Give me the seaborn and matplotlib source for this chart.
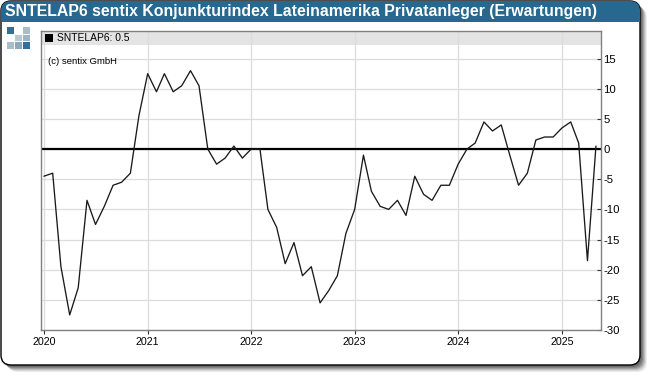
import numpy as np
import pandas as pd
import seaborn as sns
import matplotlib
matplotlib.use("Agg")
import matplotlib.pyplot as plt
from matplotlib.patches import FancyBboxPatch, Rectangle

# monthly index values
months = pd.date_range("2020-01-01", "2025-05-01", freq="MS")
vals_2020 = [-4.5, -4, -19.5, -27.5, -23, -8.5, -12.5, -9.5, -6, -5.5, -4, 5.5]
vals_2021 = [12.5, 9.5, 12.5, 9.5, 10.5, 13, 10.5, 0, -2.5, -1.5, 0.5, -1.5]
vals_2022 = [0, 0, -10, -13, -19, -15.5, -21, -19.5, -25.5, -23.5, -21, -14]
vals_2023 = [-10, -1, -7, -9.5, -10, -8.5, -11, -4.5, -7.5, -8.5, -6, -6]
vals_2024 = [-2.5, 0, 1, 4.5, 3, 4, -1, -6, -4, 1.5, 2, 2]
vals_2025 = [3.5, 4.5, 1, -18.5, 0.5]
values = vals_2020 + vals_2021 + vals_2022 + vals_2023 + vals_2024 + vals_2025
years = [2020, 2021, 2022, 2023, 2024, 2025]
yticks = [-30, -25, -20, -15, -10, -5, 0, 5, 10, 15]

title = "SNTELAP6 sentix Konjunkturindex Lateinamerika Privatanleger (Erwartungen)"
legend_text = "SNTELAP6: 0.5"
credit = "(c) sentix GmbH"

W, H = 650, 376
BLUE = "#27688f"

sns.set_theme(style="white")
plt.rcParams["font.family"] = ["Liberation Sans", "DejaVu Sans"]
plt.rcParams["axes.unicode_minus"] = False

fig = plt.figure(figsize=(W / 100, H / 100), dpi=100, facecolor="white")

# background layer in pixel coords, y going down
bg = fig.add_axes([0, 0, 1, 1])
bg.set_xlim(0, W)
bg.set_ylim(H, 0)
bg.axis("off")

# soft shadow of the panel
for off, col in zip([7, 6, 5, 4, 3, 2], ["#ececec", "#d8d8d8", "#bdbdbd", "#a0a0a0", "#858585", "#6e6e6e"]):
    bg.add_patch(FancyBboxPatch((1 + off, 1 + off), 639, 364, boxstyle="round,pad=0,rounding_size=10",
                                fc=col, ec="none"))
bg.add_patch(FancyBboxPatch((1, 1), 639, 364, boxstyle="round,pad=0,rounding_size=10",
                            fc="white", ec="black", lw=1))
# title band, clipped to the panel outline
band = Rectangle((1, 1), 639, 21, fc=BLUE, ec="none")
bg.add_patch(band)
band.set_clip_path(FancyBboxPatch((1, 1), 639, 364, boxstyle="round,pad=0,rounding_size=10",
                                  transform=bg.transData))
bg.text(5, 11.5, title, color="white", fontsize=11.45, fontweight="bold", va="center", ha="left")

# logo squares
logo = [(7, 27, "#2f6f99"), (23, 27, "#a9bcc8"), (15, 34.5, "#b9c8d2"), (23, 34.5, "#9fb4c2"),
        (7, 42, "#a9bcc8"), (15, 42, "#8fa8b8"), (23, 42, "#2f6f99")]
for lx, ly, lc in logo:
    bg.add_patch(Rectangle((lx, ly), 6.5, 6.5, fc=lc, ec="none"))

# plot area
left, right, top, bottom = 40.5, 600.5, 30.5, 330
ax = fig.add_axes([left / W, 1 - bottom / H, (right - left) / W, (bottom - top) / H])
ax.patch.set_alpha(0)

df = pd.DataFrame({"date": months, "value": values})
ax.set_xlim(pd.Timestamp("2019-12-20"), pd.Timestamp("2025-05-17"))
ax.set_ylim(-30, 19.66)

ax.add_patch(Rectangle((0, 1 - 14.5 / 299.5), 1, 14.5 / 299.5, transform=ax.transAxes,
                       fc="#e4e4e4", ec="none", zorder=0))
ax.set_xticks([pd.Timestamp(f"{y}-01-01") for y in years])
ax.set_xticklabels([str(y) for y in years])
ax.set_yticks(yticks)
ax.grid(True, color="#dcdcdc", lw=0.9)
ax.set_axisbelow(True)
ax.axhline(0, color="black", lw=1.6, zorder=2)
sns.lineplot(data=df, x="date", y="value", color="#1a1a1a", lw=0.95, ax=ax, zorder=3)
ax.set_xlabel("")
ax.set_ylabel("")

ax.yaxis.tick_right()
ax.tick_params(axis="y", direction="in", length=3, width=0.8, color="#333333", pad=2,
               labelsize=8.2, labelcolor="black", right=True)
ax.tick_params(axis="x", length=3, width=0.8, color="#333333", pad=2, labelsize=7.7,
               labelcolor="black", bottom=True)
for s in ax.spines.values():
    s.set_color("#808080")
    s.set_linewidth(1)

# legend row and credit go on top of the plot area
ax.add_patch(Rectangle((4.5 / 560, 1 - 11.5 / 299.5), 8 / 560, 8 / 299.5, transform=ax.transAxes,
                       fc="black", ec="none", zorder=5))
ax.text(16.5 / 560, 1 - 7.5 / 299.5, legend_text, transform=ax.transAxes, fontsize=7.4,
        color="black", va="center", ha="left", zorder=5)
ax.text(7.5 / 560, 1 - 30.5 / 299.5, credit, transform=ax.transAxes, fontsize=6.8,
        color="black", va="center", ha="left", zorder=5)

fig.savefig("out.png", dpi=100, facecolor="white")
